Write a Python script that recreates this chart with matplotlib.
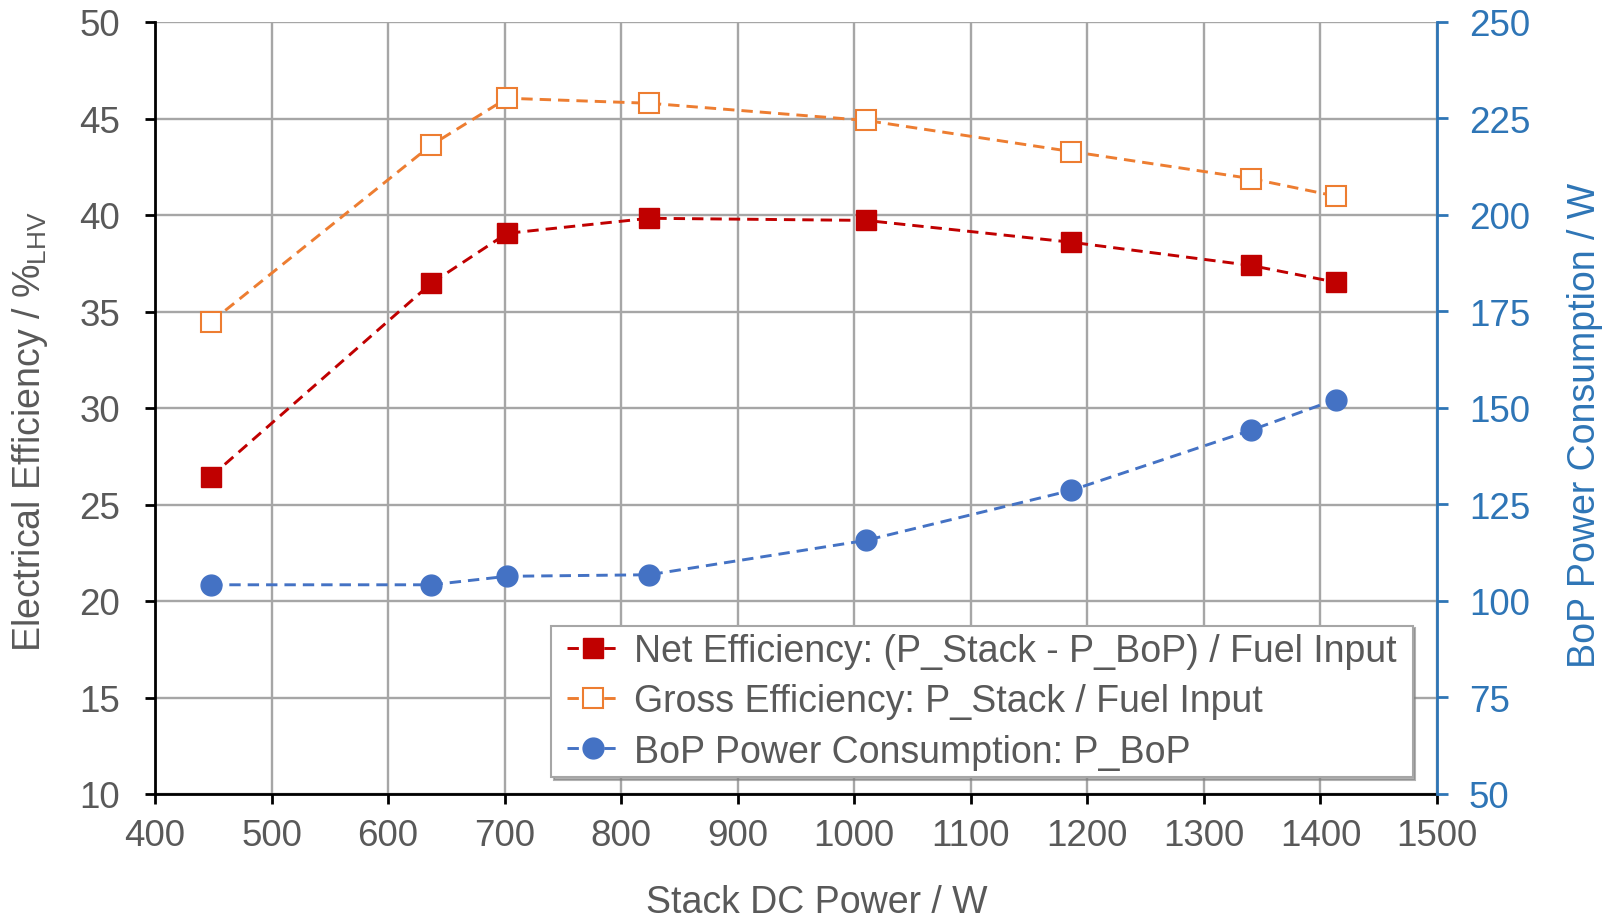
import matplotlib
matplotlib.use("Agg")
import matplotlib.pyplot as plt
from matplotlib.lines import Line2D
from matplotlib.path import Path

plt.rcParams["font.family"] = ["Liberation Sans", "DejaVu Sans"]
plt.rcParams["mathtext.fontset"] = "custom"
plt.rcParams["mathtext.rm"] = "Liberation Sans"

# Operating points
stack_power = [448, 637, 702, 824, 1010, 1186, 1340, 1413]          # W
net_eff = [26.45, 36.46, 39.05, 39.83, 39.72, 38.59, 37.39, 36.52]  # %LHV
gross_eff = [34.46, 43.62, 46.05, 45.79, 44.90, 43.29, 41.89, 40.98]  # %LHV
bop_power = [104.2, 104.2, 106.4, 106.8, 115.7, 128.65, 144.2, 152.2]  # W

x_ticks = list(range(400, 1501, 100))
left_ticks = list(range(10, 51, 5))
right_ticks = list(range(50, 251, 25))

labels = [
    "Net Efficiency: (P_Stack - P_BoP) / Fuel Input",
    "Gross Efficiency: P_Stack / Fuel Input",
    "BoP Power Consumption: P_BoP",
]

RED = "#C00000"
ORANGE = "#ED7D31"
BLUE = "#4472C4"
AXBLUE = "#2E75B6"
GRAY_TXT = "#595959"
GRID = "#A6A6A6"

fig = plt.figure(figsize=(16.17, 9.2), dpi=100)
ax = fig.add_axes([155 / 1617, 1 - 795 / 920, 1282 / 1617, 772 / 920])
ax2 = ax.twinx()

dash = (0, (3.9, 2.4))
lw = 2.1
line_kw = dict(lw=lw, ls=dash, dash_capstyle="butt", zorder=3)

ax.plot(stack_power, net_eff, color=RED, marker="s",
        ms=13.7, mfc=RED, mec=RED, **line_kw)
ax.plot(stack_power, gross_eff, color=ORANGE, marker="s",
        ms=13.7, mfc="white", mec=ORANGE, mew=1.5, **line_kw)
ax2.plot(stack_power, bop_power, color=BLUE, marker="o",
         ms=15, mfc=BLUE, mec=BLUE, **line_kw)

ax.set_xlim(400, 1500)
ax.set_ylim(10, 50)
ax2.set_ylim(50, 250)
ax.set_xticks(x_ticks)
ax.set_yticks(left_ticks)
ax2.set_yticks(right_ticks)

ax.grid(True, color=GRID, lw=1.7)
ax.set_axisbelow(True)

for s in ("top", "right"):
    ax.spines[s].set_visible(False)
ax.spines["left"].set_linewidth(2)
ax.spines["bottom"].set_linewidth(2)
ax2.spines["top"].set_visible(False)
ax2.spines["left"].set_visible(False)
ax2.spines["bottom"].set_visible(False)
ax2.spines["right"].set_color(AXBLUE)
ax2.spines["right"].set_linewidth(2)

ax.tick_params(axis="y", direction="out", length=7, width=2, pad=18,
               labelsize=26.5, labelcolor=GRAY_TXT, color="black")
ax.tick_params(axis="x", direction="out", length=7, width=2, pad=10,
               labelsize=26.5, labelcolor=GRAY_TXT, color="black")
ax2.tick_params(axis="y", direction="out", length=8, width=2, pad=15,
                labelsize=26.5, labelcolor=AXBLUE, color=AXBLUE)

ax.set_xlabel("Stack DC Power / W", fontsize=27, color=GRAY_TXT)
ax.xaxis.set_label_coords((817 - 155) / 1282, -0.1166)
ax.set_ylabel(r"Electrical Efficiency / %$_{\mathregular{LHV}}$",
              fontsize=27, color=GRAY_TXT)
ax.yaxis.set_label_coords(-0.082, 0.471)
ax2.set_ylabel("BoP Power Consumption / W", fontsize=27, color=AXBLUE)
ax2.yaxis.set_label_coords(1.1014, 0.479)

handles = [
    Line2D([], [], color=RED, lw=lw, ls=dash, marker="s", ms=13.7,
           mfc=RED, mec=RED),
    Line2D([], [], color=ORANGE, lw=lw, ls=dash, marker="s", ms=13.7,
           mfc="white", mec=ORANGE, mew=1.5),
    Line2D([], [], color=BLUE, lw=lw, ls=dash, marker="o", ms=15,
           mfc=BLUE, mec=BLUE),
]
leg = ax2.legend(handles, labels, loc="lower right",
                 bbox_to_anchor=(0.9746, 0.022), fontsize=27,
                 labelcolor=GRAY_TXT, frameon=True, fancybox=False,
                 shadow={"color": "#7F7F7F", "alpha": 0.6},
                 edgecolor="#A6A6A6", framealpha=1, handlelength=1.4,
                 handletextpad=0.4, borderpad=0.2, labelspacing=0.38,
                 borderaxespad=0)


def wide_square(x0, y0, width, height, mutation_size):
    # square frame with extra room on the left and right only
    dx = 0.22 * mutation_size
    return Path([(x0 - dx, y0), (x0 + width + dx, y0),
                 (x0 + width + dx, y0 + height), (x0 - dx, y0 + height),
                 (x0 - dx, y0)], closed=True)


leg.get_frame().set_boxstyle(wide_square)
leg.get_frame().set_linewidth(1.5)
leg.set_zorder(5)

fig.savefig("out.png", dpi=100)
